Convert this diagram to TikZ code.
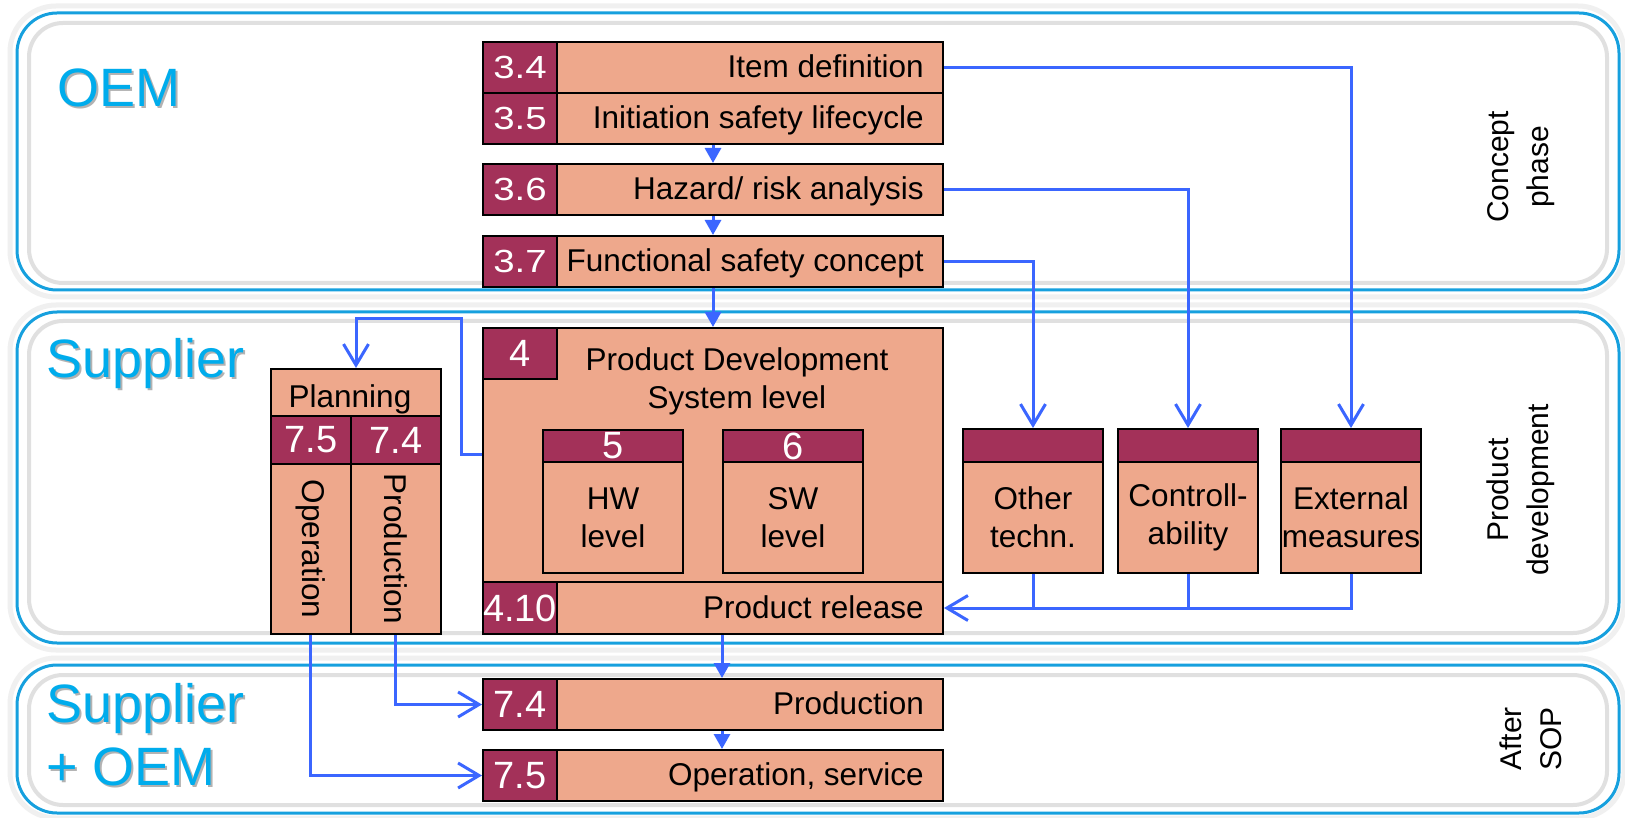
\documentclass[tikz,border=0pt]{standalone}
\usepackage{graphicx}
\usepackage{fontspec}
\setmainfont{Liberation Sans}
\usetikzlibrary{arrows.meta}

\definecolor{salmon}{RGB}{238,168,140}
\definecolor{wine}{RGB}{163,49,89}
\definecolor{flow}{RGB}{59,102,255}
\definecolor{sky}{RGB}{0,172,236}
\definecolor{skyline}{RGB}{22,160,222}

\newcommand{\bxfont}{\fontsize{31.5}{38}\selectfont}
\newcommand{\nmfont}{\fontsize{32}{38}\selectfont}
\newcommand{\nmbigfont}{\fontsize{38}{40}\selectfont}
\newcommand{\whfont}{\fontsize{54}{63}\selectfont}
\newcommand{\phfont}{\fontsize{30}{40}\selectfont}
\newcommand{\widenum}[1]{\scalebox{1.2}[1]{#1}}

\tikzset{
  band/.style={draw=skyline, line width=3pt, rounded corners=40pt, fill=white},
  bandin/.style={draw=black!12, line width=4pt, rounded corners=34pt},
  bandglow/.style={draw=black!6, line width=5pt, rounded corners=46pt},
  cell/.style={draw=black, line width=2pt, fill=salmon, inner sep=0pt, anchor=north west},
  numcell/.style={draw=black, line width=2pt, fill=wine, inner sep=0pt, anchor=north west,
    text=white, font=\nmbigfont},
  lbl/.style={font=\bxfont, inner sep=0pt, anchor=east, text height=22.6pt, text depth=0pt},
  body/.style={font=\bxfont, inner sep=0pt, align=center},
  flowline/.style={draw=flow, line width=3pt},
  barb/.style={flowline, -{Straight Barb[length=21pt,width=25pt]}},
  tri/.style={flowline, -{Triangle[length=15pt,width=16pt]}},
  phase/.style={font=\phfont, rotate=90, align=center, inner sep=0pt},
  who/.style={font=\whfont, text=sky, anchor=base west, inner sep=0pt},
  whoshade/.style={font=\whfont, text=black!30, anchor=base west, inner sep=0pt},
}

\begin{document}
\begin{tikzpicture}[x=1pt, y=-1pt]
\useasboundingbox (0,0) rectangle (1625,818);
\fill[white] (0,0) rectangle (1625,818);

% ---------- phase bands ----------
\draw[bandglow] (10,6) rectangle (1624,297);
\draw[band] (17,13) rectangle (1619,290);
\draw[bandin] (29,23) rectangle (1607,283);

\draw[bandglow] (10,305) rectangle (1624,650);
\draw[band] (17,312) rectangle (1619,643);
\draw[bandin] (29,321) rectangle (1607,633);

\draw[bandglow] (10,658) rectangle (1624,818);
\draw[band] (17,665) rectangle (1619,813);
\draw[bandin] (29,675) rectangle (1607,805);

% ---------- band titles ----------
\node[whoshade] at (59,109) {OEM};
\node[who] (tOEM) at (57,107) {OEM};
\node[whoshade] at (48,379) {Supplier};
\node[who] (tSup) at (46,377) {Supplier};
\node[whoshade] at (48,724) {Supplier};
\node[who] (tSO1) at (46,722) {Supplier};
\node[whoshade] at (48,787) {+ OEM};
\node[who] (tSO2) at (46,785) {+ OEM};

% ---------- phase names ----------
\node[phase] (pConcept) at (1521,167) {Concept\\phase};
\node[phase] (pDev) at (1521,490) {Product\\development};
\node[phase] (pSOP) at (1531,739) {After\\SOP};

% ---------- concept phase rows ----------
\node[cell, minimum width=460pt, minimum height=51pt] (r34) at (482,41) {};
\node[numcell, font=\nmfont, minimum width=74pt, minimum height=51pt] (n34) at (482,41) {\widenum{3.4}};
\node[lbl] (l34) at (924,66.5) {Item definition};

\node[cell, minimum width=460pt, minimum height=51pt] (r35) at (482,92) {};
\node[numcell, font=\nmfont, minimum width=74pt, minimum height=51pt] (n35) at (482,92) {\widenum{3.5}};
\node[lbl] (l35) at (924,117.5) {Initiation safety lifecycle};

\node[cell, minimum width=460pt, minimum height=51pt] (r36) at (482,163) {};
\node[numcell, font=\nmfont, minimum width=74pt, minimum height=51pt] (n36) at (482,163) {\widenum{3.6}};
\node[lbl] (l36) at (924,188.5) {Hazard/ risk analysis};

\node[cell, minimum width=460pt, minimum height=51pt] (r37) at (482,235) {};
\node[numcell, font=\nmfont, minimum width=74pt, minimum height=51pt] (n37) at (482,235) {\widenum{3.7}};
\node[lbl] (l37) at (924,260.5) {Functional safety concept};

% ---------- product development (system level) ----------
\node[cell, minimum width=460pt, minimum height=306pt] (box4) at (482,327) {};
\node[numcell, minimum width=74pt, minimum height=51pt] (n4) at (482,327) {4};
\node[body] (l4) at (737,381) {Product Development\\System level};

\node[numcell, minimum width=140pt, minimum height=32pt] (h5) at (542,429) {5};
\node[cell, minimum width=140pt, minimum height=111pt] (b5) at (542,461) {};
\node[body] at (b5.center) {HW\\level};

\node[numcell, minimum width=140pt, minimum height=32pt] (h6) at (722,429) {6};
\node[cell, minimum width=140pt, minimum height=111pt] (b6) at (722,461) {};
\node[body] at (b6.center) {SW\\level};

\node[cell, minimum width=460pt, minimum height=52pt] (r410) at (482,581) {};
\node[numcell, minimum width=74pt, minimum height=52pt] (n410) at (482,581) {4.10};
\node[lbl] (l410) at (924,607) {Product release};

% ---------- other technologies, controllability, external measures ----------
\node[numcell, minimum width=140pt, minimum height=33pt] (othh) at (962,428) {};
\node[cell, minimum width=140pt, minimum height=111pt] (othb) at (962,461) {};
\node[body] at (othb.center) {Other\\techn.};

\node[numcell, minimum width=140pt, minimum height=33pt] (ctlh) at (1117,428) {};
\node[cell, minimum width=140pt, minimum height=111pt] (ctlb) at (1117,461) {};
\node[body] at (ctlb.center) {Controll-\\ability};

\node[numcell, minimum width=140pt, minimum height=33pt] (exth) at (1280,428) {};
\node[cell, minimum width=140pt, minimum height=111pt] (extb) at (1280,461) {};
\node[body] at (extb.center) {External\\measures};

% ---------- planning of production and operation ----------
\node[cell, minimum width=170pt, minimum height=47pt] (plan) at (270,368) {};
\node[lbl, anchor=center] at (350,396) {Planning};
\node[numcell, minimum width=79.5pt, minimum height=48pt] (n75p) at (270,415) {7.5};
\node[numcell, minimum width=90.5pt, minimum height=48pt] (n74p) at (349.5,415) {7.4};
\node[cell, minimum width=79.5pt, minimum height=170pt] (colop) at (270,463) {};
\node[cell, minimum width=90.5pt, minimum height=170pt] (colpr) at (349.5,463) {};
\node[body, rotate=-90] at (colop.center) {Operation};
\node[body, rotate=-90] at (colpr.center) {Production};

% ---------- after SOP ----------
\node[cell, minimum width=460pt, minimum height=51pt] (r74) at (482,678) {};
\node[numcell, minimum width=74pt, minimum height=51pt] (n74) at (482,678) {7.4};
\node[lbl] (l74) at (924,703.5) {Production};

\node[cell, minimum width=460pt, minimum height=51pt] (r75) at (482,749) {};
\node[numcell, minimum width=74pt, minimum height=51pt] (n75) at (482,749) {7.5};
\node[lbl] (l75) at (924,774.5) {Operation, service};

% ---------- flow ----------
\draw[tri] (r35.south) -- (r36.north);
\draw[tri] (r36.south) -- (r37.north);
\draw[tri] (r37.south) -- (box4.north);

\draw[barb] (r34.east) -- (r34.east -| exth.north) -- (exth.north);
\draw[barb] (r36.east) -- (r36.east -| ctlh.north) -- (ctlh.north);
\draw[barb] (r37.east) -- (r37.east -| othh.north) -- (othh.north);

\draw[barb] (box4.west |- 0,454) -- ++(-21,0) |- (plan.north |- 0,319) -- (plan.north);

\draw[flowline] (othb.south) -- (othb.south |- r410.east);
\draw[flowline] (ctlb.south) -- (ctlb.south |- r410.east);
\draw[barb] (extb.south) -- (extb.south |- r410.east) -- (r410.east);

\draw[tri] ([xshift=9pt]r410.south) -- ([xshift=9pt]r74.north);
\draw[tri] ([xshift=9pt]r74.south) -- ([xshift=9pt]r75.north);

\draw[barb] (colpr.south) |- (r74.west);
\draw[barb] (colop.south) |- (r75.west);
\end{tikzpicture}
\end{document}
